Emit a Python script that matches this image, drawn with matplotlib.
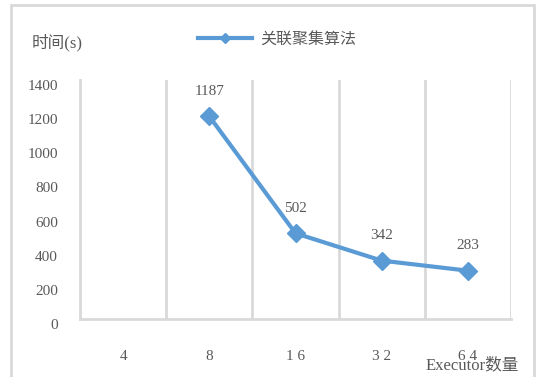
import matplotlib.pyplot as plt
from matplotlib.patches import Rectangle
from matplotlib.transforms import ScaledTranslation

categories = ['4', '8', '1 6', '3 2', '6 4']
executors_idx = [1, 2, 3, 4]
times = [1187, 502, 342, 283]
series_name = '关联聚集算法'

plt.rcParams['font.family'] = ['Liberation Serif', 'Noto Sans CJK SC']
gray_text = '#595959'
grid_gray = '#D9D9D9'
blue = '#5B9BD5'

W, H = 537, 377
fig = plt.figure(figsize=(W / 100, H / 100), dpi=100)
ax = fig.add_axes([80 / W, 1 - 319 / H, (511 - 80) / W, (319 - 80) / H])

# outer chart frame
fig.patches.append(Rectangle((11 / W, -0.05), (534 - 11) / W, 1.05 - 5 / H,
                             transform=fig.transFigure, fill=False,
                             edgecolor=grid_gray, linewidth=2))

line, = ax.plot(executors_idx, times, color=blue, linewidth=3,
                marker='D', markersize=9, label=series_name, zorder=3)
for x, y in zip(executors_idx, times):
    ax.annotate(str(y), (x, y), xytext=(0, 18), textcoords='offset points',
                ha='center', va='center', fontsize=11, color=gray_text)

ax.set_xlim(-0.5, 4.5)
ax.set_ylim(0, 1400)
ax.set_yticks(range(0, 1401, 200))
ax.set_xticks(range(len(categories)))
ax.set_xticklabels(categories)
for b in [0.5, 1.5, 2.5, 3.5, 4.5]:
    ax.axvline(b, color=grid_gray, linewidth=2, zorder=1)

for s in ['top', 'right']:
    ax.spines[s].set_visible(False)
for s in ['left', 'bottom']:
    ax.spines[s].set_color(grid_gray)
    ax.spines[s].set_linewidth(2)
ax.tick_params(axis='both', length=0, labelsize=11, labelcolor=gray_text)
ax.tick_params(axis='x', pad=22)
ax.tick_params(axis='y', pad=16)
shift = ScaledTranslation(0, -5 / 100, fig.dpi_scale_trans)
for lab in ax.get_yticklabels():
    lab.set_transform(lab.get_transform() + shift)

fig.legend(handles=[line], loc='center', bbox_to_anchor=(277 / W, 1 - 40 / H),
           frameon=False, fontsize=11.5, handlelength=3.4, numpoints=1,
           markerscale=0.6, labelcolor=gray_text, handletextpad=0.5)
fig.text(32 / W, 1 - 43 / H, '时间(s)', fontsize=12, color=gray_text,
         ha='left', va='center')
fig.text(519 / W, 1 - 365 / H, 'Executor数量', fontsize=12, color=gray_text,
         ha='right', va='center')

fig.savefig('out.png', dpi=100)
